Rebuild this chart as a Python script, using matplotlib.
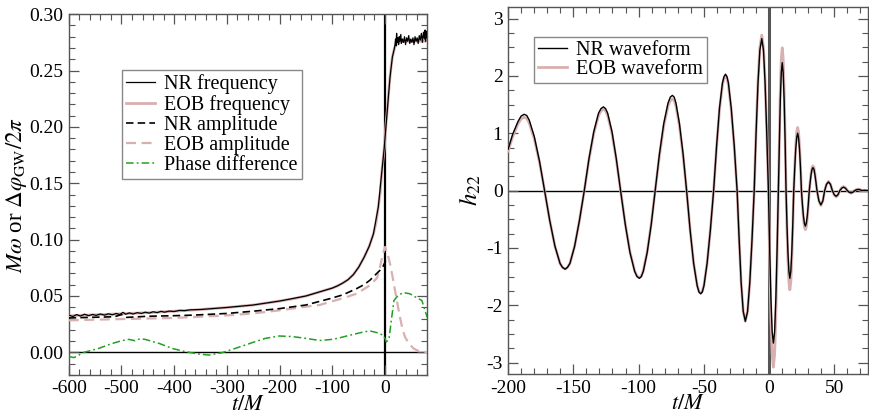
import matplotlib
matplotlib.use("Agg")
import matplotlib.pyplot as plt
from matplotlib.ticker import MultipleLocator, FormatStrFormatter

plt.rcParams['font.family'] = ['Liberation Serif', 'DejaVu Serif']
plt.rcParams['mathtext.fontset'] = 'stix'
plt.rcParams['axes.unicode_minus'] = False

# ---- left panel: frequency, amplitude, phase difference ----
t_eob_freq = [-600, -550, -500, -450, -400, -350, -300, -250, -200, -175, -150, -125,
              -100, -90, -80, -70, -60, -50, -40, -30, -22, -17, -12.7, -9, -6.3, -3.5, -1.5,
              0, 2, 4.4, 7, 9.5, 12, 14, 17, 19, 23, 28.5, 40, 60, 80]
eob_freq = [.0325, .0333, .0342, .0352, .0365, .038, .0398, .042, .0455, .0475, .050, .0535,
            .057, .059, .0615, .0645, .069, .0755, .084, .094, .105, .115, .129, .142, .159,
            .172, .181, .19, .203, .215, .231, .244, .255, .262, .268, .271, .274, .2755, .276,
            .276, .276]

t_nr_freq = [-600, -592, -585, -578, -570, -562, -555, -548, -540, -532, -525, -517, -510,
             -503, -497, -492, -485, -478, -470, -462, -455, -447, -440, -432, -425, -418,
             -410, -400, -390, -380, -370, -350, -300, -250, -200, -150, -100, -90, -80, -70,
             -60, -50, -40, -30, -22, -12.7, -6.3, -1.5, 0, 4.4, 9.5, 14, 17, 19, 20, 21, 22,
             23, 24, 26, 27, 28, 30, 31, 33, 35, 37, 39, 41, 43, 45, 47, 49, 51, 53, 55, 57,
             59, 61, 63, 65, 67, 69, 71, 73, 75, 76, 77, 78, 79, 80]
nr_freq = [.0330, .0318, .0335, .0322, .0338, .0325, .0336, .0328, .0340, .0330, .0342, .0333,
           .0345, .0335, .0355, .0338, .0350, .0340, .0352, .0345, .0356, .0348, .0360, .0352,
           .0364, .0356, .0366, .0362, .0372, .0370, .0377, .0380, .0398, .042, .0455, .050,
           .057, .059, .0615, .0645, .069, .0755, .084, .094, .105, .129, .159, .181, .19,
           .215, .244, .262, .268, .273, .278, .272, .283, .275, .279, .273, .280, .276, .282,
           .274, .278, .275, .280, .273, .279, .276, .281, .274, .278, .275, .279, .273, .280,
           .276, .279, .274, .281, .277, .283, .275, .284, .278, .286, .276, .285, .279, .283]

t_nr_amp = [-600, -560, -520, -510, -500, -490, -450, -400, -364, -300, -250, -200, -150,
            -104.6, -80, -54, -40, -28.5, -20, -9.5, -4, 0, 1.5]
nr_amp = [.0305, .031, .0315, .032, .0335, .031, .032, .0325, .033, .0345, .0365, .0388, .042,
          .0476, .051, .0565, .060, .064, .068, .0728, .076, .080, .081]

t_eob_amp = [-600, -500, -400, -364, -300, -250, -200, -150, -124, -104.6, -80, -54, -28.5,
             -15, -9.5, -3.8, 0, 4.5, 9.5, 14, 19, 24, 28.5, 33, 38, 45, 54, 62, 73, 80]
eob_amp = [.0284, .0295, .0305, .0313, .0328, .0345, .0373, .0405, .042, .0447, .048, .052,
           .0595, .066, .0757, .0876, .0935, .088, .0787, .068, .055, .042, .031, .021, .0136,
           .008, .0035, .0015, .0006, .0]

t_phase = [-600, -590, -571, -543, -520, -499, -486, -474, -465, -455, -429, -404, -379, -353,
           -334, -309, -284, -252, -227, -201, -176, -150, -124, -100, -85, -70, -54, -40,
           -28.5, -13, -2.5, 2.5, 7.6, 12, 17, 25, 34.6, 47, 60, 70, 74, 78, 80]
phase_diff = [-.0036, -.0047, 0, .0035, .0075, .0104, .0115, .0103, .012, .0115, .008, .0035,
              .0006, -.0015, -.0024, -.0003, .0035, .0086, .0124, .0145, .014, .0124, .0105,
              .0115, .013, .0148, .0166, .0182, .019, .0172, .015, .0092, .0118, .0284, .046,
              .0506, .053, .052, .0485, .046, .040, .034, .031]

# ---- right panel: h22 waveform ----
t_wave = [-200.0, -196.5, -192.5, -190.0, -187.7, -185.7, -183.8, -179.9, -175.9, -172.0,
          -168.1, -164.1, -160.2, -158.3, -156.3, -154.5, -152.6, -149.0, -145.3, -141.6,
          -138.0, -134.3, -130.7, -128.8, -127.0, -125.3, -123.7, -120.4, -117.1, -113.8,
          -110.2, -106.6, -103.0, -101.2, -99.4, -97.9, -96.4, -93.4, -90.3, -87.3,
          -84.0, -80.7, -77.4, -75.7, -74.1, -72.7, -71.4, -68.7, -65.9, -63.2,
          -60.5, -57.8, -55.1, -53.7, -52.4, -51.2, -49.9, -47.5, -45.0, -42.5,
          -40.2, -38.0, -35.7, -34.5, -33.4, -32.3, -31.2, -29.0, -26.7, -24.5,
          -22.9, -21.4, -19.8, -18.2, -16.5, -14.8, -13.1, -11.4, -9.95, -8.5, -7.05,
          -5.6, -4.3, -3.05, -1.8, -0.5, 0.45, 1.4, 2.35, 3.3, 4.25, 5.2, 6.15, 7.1, 7.85,
          8.6, 9.35, 10.1, 10.8, 11.55, 12.3, 13.0, 13.7, 14.45, 15.2, 15.9, 16.65, 17.4,
          18.15, 18.9, 19.65, 20.4, 21.15, 21.9, 22.6, 23.35, 24.1, 24.8, 25.55, 26.3, 27.05,
          27.8, 28.55, 29.3, 30.05, 30.8, 31.5, 32.2, 32.9, 33.6, 34.4, 35.1, 35.9, 36.7,
          38.2, 39.7, 41.2, 42.6, 44.0, 45.5, 47.0, 48.5, 49.9, 51.4, 52.8, 54.2, 55.6, 57.0,
          58.5, 60.0, 61.4, 62.8, 64.2, 65.6, 67.0, 68.4, 69.8, 71.0, 73.0, 76.0]
h_nr = [0.72, 0.98, 1.20, 1.30, 1.33, 1.31, 1.23, 0.94, 0.51, 0,
        -0.52, -0.97, -1.27, -1.34, -1.37, -1.34, -1.27, -0.97, -0.52, 0,
        0.56, 1.03, 1.35, 1.43, 1.46, 1.43, 1.35, 1.03, 0.56, 0,
        -0.59, -1.08, -1.41, -1.50, -1.53, -1.50, -1.41, -1.08, -0.59, 0,
        0.64, 1.17, 1.53, 1.63, 1.66, 1.63, 1.53, 1.17, 0.64, 0,
        -0.69, -1.27, -1.66, -1.77, -1.80, -1.77, -1.66, -1.27, -0.69, 0,
        0.78, 1.44, 1.88, 1.99, 2.03, 1.99, 1.88, 1.44, 0.78, 0,
        -0.87, -1.61, -2.11, -2.28, -2.11, -1.61, -0.87, 0, 1.01, 1.87, 2.45,
        2.65, 2.45, 1.87, 1.01, 0, -1.02, -1.88, -2.46, -2.66, -2.46, -1.88, -1.02, 0, 0.85,
        1.58, 2.06, 2.23, 2.06, 1.58, 0.85, 0, -0.59, -1.08, -1.41, -1.53, -1.41, -1.08,
        -0.59, 0, 0.38, 0.71, 0.92, 1.00, 0.92, 0.71, 0.38, 0, -0.24, -0.44, -0.57,
        -0.62, -0.57, -0.44, -0.24, 0, 0.15, 0.28, 0.37, 0.40, 0.37, 0.28, 0.15, 0,
        -0.18, -0.25, -0.18, 0, 0.11, 0.15, 0.11, 0, -0.07, -0.10, -0.07, 0, 0.04, 0.06,
        0.04, 0, -0.03, -0.04, -0.03, 0, 0.014, 0.02, 0.014, 0, 0.005, 0]
h_eob = [0.69, 0.94, 1.16, 1.25, 1.28, 1.26, 1.18, 0.90, 0.49, 0,
         -0.52, -0.97, -1.27, -1.34, -1.37, -1.34, -1.27, -0.97, -0.52, 0,
         0.54, 1.00, 1.31, 1.39, 1.42, 1.39, 1.31, 1.00, 0.54, 0,
         -0.58, -1.07, -1.40, -1.49, -1.52, -1.49, -1.40, -1.07, -0.58, 0,
         0.61, 1.13, 1.48, 1.57, 1.60, 1.57, 1.48, 1.13, 0.61, 0,
         -0.69, -1.27, -1.65, -1.76, -1.79, -1.76, -1.65, -1.27, -0.69, 0,
         0.77, 1.41, 1.85, 1.96, 2.00, 1.96, 1.85, 1.41, 0.77, 0,
         -0.87, -1.61, -2.11, -2.28, -2.11, -1.61, -0.87, 0, 1.04, 1.92, 2.50,
         2.71, 2.50, 1.92, 1.04, 0, -1.18, -2.18, -2.85, -3.08, -2.85, -2.18, -1.18, 0, 0.95,
         1.76, 2.30, 2.49, 2.30, 1.76, 0.95, 0, -0.66, -1.22, -1.60, -1.73, -1.60, -1.22,
         -0.66, 0, 0.42, 0.78, 1.02, 1.10, 1.02, 0.78, 0.42, 0, -0.26, -0.48, -0.63,
         -0.68, -0.63, -0.48, -0.26, 0, 0.16, 0.30, 0.40, 0.43, 0.40, 0.30, 0.16, 0,
         -0.18, -0.26, -0.18, 0, 0.11, 0.16, 0.11, 0, -0.08, -0.11, -0.08, 0, 0.05, 0.07,
         0.05, 0, -0.03, -0.045, -0.03, 0, 0.018, 0.025, 0.018, 0, 0.005, 0]

pink = '#d8b0b0'
green = '#22a022'
frame = '#555555'
dash = (0, (4.5, 2.5))

fig = plt.figure(figsize=(8.7, 4.17), dpi=100)
ax1 = fig.add_axes([0.079, 0.101, 0.412, 0.865])
ax2 = fig.add_axes([0.584, 0.103, 0.414, 0.880])

# left
ax1.axhline(0, color='black', lw=1.0, zorder=1)
ax1.axvline(0, color='black', lw=1.6, zorder=1)
ax1.plot(t_nr_freq, nr_freq, color='black', lw=0.9, label='NR frequency', zorder=4)
ax1.plot(t_eob_freq, eob_freq, color=pink, lw=2.0, label='EOB frequency', zorder=3)
ax1.plot(t_nr_amp, nr_amp, color='black', lw=1.2, ls=dash, label='NR amplitude', zorder=4)
ax1.plot(t_eob_amp, eob_amp, color=pink, lw=1.6, ls=dash, label='EOB amplitude', zorder=3)
ax1.plot(t_phase, phase_diff, color=green, lw=1.1, ls=(0, (5, 2, 1.2, 2)),
         label='Phase difference', zorder=3)
ax1.set_xlim(-600, 80)
ax1.set_ylim(-0.02, 0.30)
ax1.xaxis.set_major_locator(MultipleLocator(100))
ax1.xaxis.set_minor_locator(MultipleLocator(20))
ax1.yaxis.set_major_locator(MultipleLocator(0.05))
ax1.yaxis.set_minor_locator(MultipleLocator(0.01))
ax1.yaxis.set_major_formatter(FormatStrFormatter('%.2f'))
ax1.set_xlabel(r'$t/M$', fontsize=16, labelpad=-1)
ax1.set_ylabel(r'$M\omega$ or $\Delta\varphi_{\rm GW}/2\pi$', fontsize=16.5)
ax1.yaxis.set_label_coords(-0.11, 0.5)
leg1 = ax1.legend(loc='upper left', bbox_to_anchor=(0.148, 0.845), borderaxespad=0,
                  fontsize=14.5, frameon=True, fancybox=False, framealpha=1,
                  edgecolor='#888888', handlelength=1.45, handletextpad=0.45,
                  labelspacing=0.05, borderpad=0.2)
leg1.get_frame().set_linewidth(1.0)

# right
ax2.axhline(0, color='black', lw=1.0, zorder=1)
ax2.axvline(0, color='#555555', lw=2.2, zorder=1)
ax2.plot(t_wave, h_eob, color=pink, lw=2.0, label='EOB waveform', zorder=3)
ax2.plot(t_wave, h_nr, color='black', lw=1.0, label='NR waveform', zorder=4)
ax2.set_xlim(-200, 76)
ax2.set_ylim(-3.2, 3.2)
ax2.xaxis.set_major_locator(MultipleLocator(50))
ax2.xaxis.set_minor_locator(MultipleLocator(10))
ax2.yaxis.set_major_locator(MultipleLocator(1))
ax2.yaxis.set_minor_locator(MultipleLocator(0.25))
ax2.set_xlabel(r'$t/M$', fontsize=16, labelpad=-1)
ax2.set_ylabel(r'$h_{22}$', fontsize=18, labelpad=2)
handles, labels = ax2.get_legend_handles_labels()
leg2 = ax2.legend(handles[::-1], labels[::-1], loc='upper left',
                  bbox_to_anchor=(0.072, 0.918), borderaxespad=0, fontsize=14.5,
                  frameon=True, fancybox=False, framealpha=1, edgecolor='#888888',
                  handlelength=1.45, handletextpad=0.45, labelspacing=0.0, borderpad=0.2)
leg2.get_frame().set_linewidth(1.0)

for ax in (ax1, ax2):
    ax.tick_params(which='both', direction='in', top=True, right=True,
                   color=frame, labelsize=14, pad=4)
    ax.tick_params(which='major', length=7, width=0.9)
    ax.tick_params(which='minor', length=4, width=0.8)
    for s in ax.spines.values():
        s.set_color(frame)
        s.set_linewidth(1.0)

fig.savefig('out.png', dpi=100)
